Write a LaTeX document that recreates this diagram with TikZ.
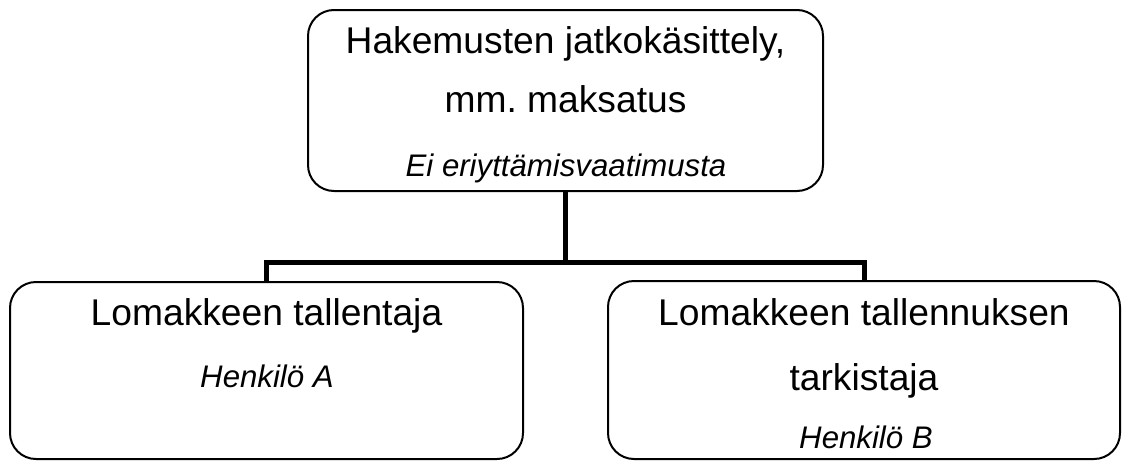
\documentclass[tikz,border=0pt]{standalone}
\usepackage{fontspec}
\setmainfont{Liberation Sans}
\usepackage{tikz}
\usetikzlibrary{positioning}
\frenchspacing
\tikzstyle{orgChart} = [x = 0.5pt, y = -0.5pt]
\tikzstyle{boxStyle} = [draw=black, fill=white, line width=1pt, rounded corners = 13pt, inner sep=0pt]
\tikzstyle{linkLine} = [color=black, line width=2.5pt]
\newcommand{\titleFont}{\fontsize{18.6}{22}\selectfont}
\newcommand{\personFont}{\fontsize{15.6}{18}\selectfont\itshape}
\tikzstyle{titleText} = [font=\titleFont, anchor=base, inner sep=0pt]
\tikzstyle{personText} = [font=\personFont, anchor=base, inner sep=0pt]
\newcommand{\chartBox}[5]{\node [boxStyle, minimum width = #4 * 0.5pt, minimum height = #5 * 0.5pt] (#1) at (#2, #3) {};}
\newcommand{\titleLine}[4]{\node [titleText] (#1) at (#2, #3) {#4};}
\newcommand{\personLine}[4]{\node [personText] (#1) at (#2, #3) {#4};}

\begin{document}
\begin{tikzpicture}[orgChart]
    \useasboundingbox (0,0) rectangle (1123,461);
    % boxes
    \chartBox{payment}{565.5}{100.5}{515}{181}
    \chartBox{recorder}{266.5}{370.5}{513}{177}
    \chartBox{checker}{864}{370}{512}{178}
    % connectors
    \coordinate (branch) at (565.5, 262);
    \draw [linkLine] (payment.south) -- (branch) -| (recorder.north);
    \draw [linkLine] (branch) -| (checker.north);
    % texts
    \titleLine{paymentA}{565.5}{53}{Hakemusten jatkokäsittely,}
    \titleLine{paymentB}{565.5}{112}{mm. maksatus}
    \personLine{paymentC}{566}{176}{Ei eriyttämisvaatimusta}
    \titleLine{recorderA}{266.5}{325}{Lomakkeen tallentaja}
    \personLine{recorderB}{267}{387}{Henkilö A}
    \titleLine{checkerA}{864}{325}{Lomakkeen tallennuksen}
    \titleLine{checkerB}{864}{390}{tarkistaja}
    \personLine{checkerC}{866}{448}{Henkilö B}
\end{tikzpicture}
\end{document}
